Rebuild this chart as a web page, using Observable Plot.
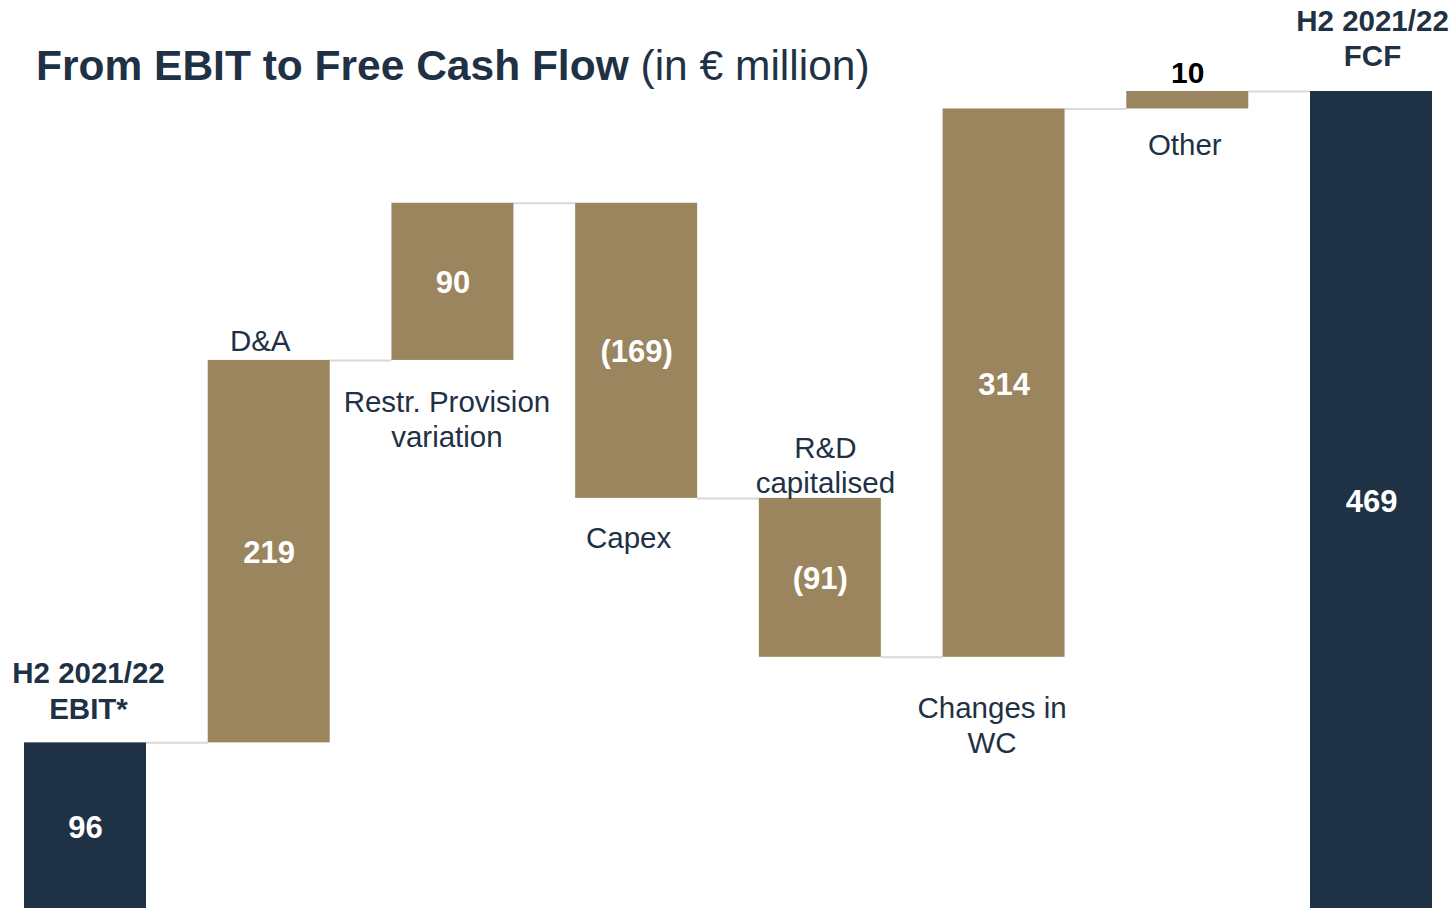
<!DOCTYPE html>
<html>
<head>
<meta charset="utf-8">
<script src="https://cdn.jsdelivr.net/npm/d3@7"></script>
<script src="https://cdn.jsdelivr.net/npm/@observablehq/plot@0.6"></script>
<style>
  body { margin: 0; background: #fff; }
  #wrap { position: relative; width: 1450px; height: 908px; overflow: hidden; }
  #title { position: absolute; left: 36px; top: 45px; font-family: "Liberation Sans", Arial, sans-serif;
           font-size: 42.5px; line-height: 42.5px; color: #1f3145; white-space: nowrap; }
  #title b { font-weight: bold; }
</style>
</head>
<body>
<div id="wrap">
  <div id="chart"></div>
  <div id="title"><b>From EBIT to Free Cash Flow</b> (in € million)</div>
</div>
<script>
// ---- data ----
const categories = ["H2 2021/22\nEBIT*", "D&A", "Restr. Provision\nvariation", "Capex", "R&D\ncapitalised", "Changes in\nWC", "Other", "H2 2021/22\nFCF"];
const values = [96, 219, 90, -169, -91, 314, 10, 469];
const kinds = ["total", "delta", "delta", "delta", "delta", "delta", "delta", "total"];
const valueLabels = ["96", "219", "90", "(169)", "(91)", "314", "10", "469"];

// ---- layout / style (not data) ----
const navy = "#1f3145";
const gold = "#9b855f";
const hw = 0.332; // half bar width, in step units
const labelLayout = [
  {side: "top", dy: -53, dx: 3},
  {side: "top", dy: -20.5, dx: -9},
  {side: "bottom", dy: 58, dx: -6},
  {side: "bottom", dy: 38.5, dx: -8},
  {side: "top", dy: -34.5, dx: 5},
  {side: "bottom", dy: 67, dx: -12},
  {side: "bottom", dy: 35, dx: -3},
  {side: "top", dy: -54.5, dx: 1}
];

// ---- derived table ----
let run = 0;
const rows = categories.map((c, i) => {
  let y1, y2;
  if (kinds[i] === "total") { y1 = 0; y2 = values[i]; }
  else { y1 = run; y2 = run + values[i]; }
  run = y2;
  return {i, category: c, value: values[i], kind: kinds[i], label: valueLabels[i],
          y1, y2, lo: Math.min(y1, y2), hi: Math.max(y1, y2)};
});
const connectors = rows.slice(0, -1).map(r => ({i: r.i, level: r.y2}));
const inside = d => Math.abs(d.value) > 30;

const categoryMarks = rows.map((r, k) => {
  const L = labelLayout[k];
  return Plot.text([r], {
    x: "i",
    y: d => L.side === "top" ? d.hi : d.lo,
    text: "category",
    dx: L.dx, dy: L.dy,
    lineHeight: 1.2,
    fontSize: 29.5,
    fontWeight: r.kind === "total" ? "bold" : "normal",
    fill: navy
  });
});

const chart = Plot.plot({
  width: 1450,
  height: 908,
  marginTop: 0, marginBottom: 0, marginLeft: 0, marginRight: 0,
  style: {fontFamily: "'Liberation Sans', Arial, sans-serif", background: "#fff"},
  x: {domain: [-hw, categories.length - 1 + hw], range: [24, 1432], axis: null},
  y: {domain: [0, 469], range: [910, 91], axis: null},
  marks: [
    Plot.ruleY(connectors, {y: "level", x1: d => d.i + hw, x2: d => d.i + 1 - hw, stroke: "#d9d9d9", strokeWidth: 2}),
    Plot.rectY(rows.filter(d => d.kind === "total"), {x1: d => d.i - hw, x2: d => d.i + hw, y1: "y1", y2: "y2", fill: navy}),
    Plot.rectY(rows.filter(d => d.kind !== "total"), {x1: d => d.i - hw, x2: d => d.i + hw, y1: "y1", y2: "y2", fill: gold}),
    Plot.text(rows.filter(inside), {x: "i", y: d => (d.y1 + d.y2) / 2, dy: 1.5, text: "label", fill: "white", fontWeight: "bold", fontSize: 31}),
    Plot.text(rows.filter(d => !inside(d)), {x: "i", y: "hi", dy: -18, text: "label", fill: "#000", fontWeight: "bold", fontSize: 30}),
    ...categoryMarks
  ]
});
document.getElementById("chart").appendChild(chart);
</script>
</body>
</html>
